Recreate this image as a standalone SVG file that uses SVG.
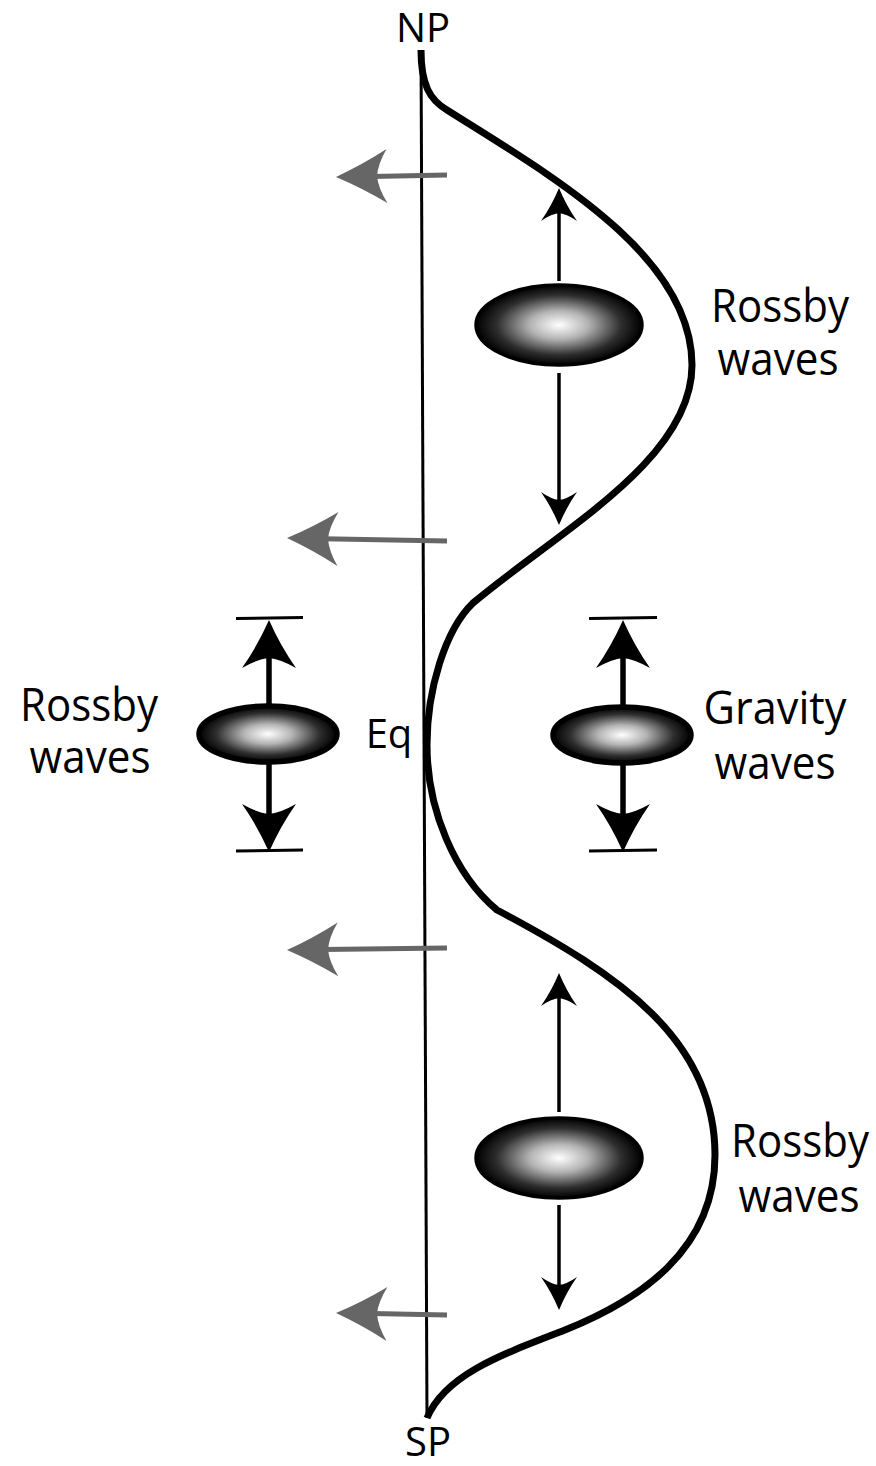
<svg xmlns="http://www.w3.org/2000/svg" width="876" height="1466" viewBox="0 0 876 1466">
<style>
.lbl{font-family:"Open Sans","Liberation Sans",sans-serif;font-size:46px;fill:#000;text-anchor:middle}
.pole{font-family:"Open Sans","Liberation Sans",sans-serif;font-size:40px;fill:#000;text-anchor:middle}
.gray{stroke:#666;stroke-width:5;fill:none}
.ghead{fill:#666}
.bhead{fill:#000}
.thin{stroke:#000;stroke-width:3.5;fill:none}
.thick{stroke:#000;stroke-width:7;fill:none;stroke-linejoin:round}
.mid{stroke:#000;stroke-width:5.5;fill:none}
.bar{stroke:#000;stroke-width:3;fill:none}
.blob{fill:url(#rg);stroke:#000;stroke-width:3.5}
.blob2{fill:url(#rg);stroke:#000;stroke-width:5.5}
</style>
<defs>
<radialGradient id="rg" cx="0.5" cy="0.5" r="0.5">
<stop offset="0" stop-color="#ffffff"/>
<stop offset="0.35" stop-color="#b4b4b4"/>
<stop offset="0.75" stop-color="#2e2e2e"/>
<stop offset="1" stop-color="#000000"/>
</radialGradient>
<path id="gh" d="M0,0 Q27,-12 51,-27 Q42,-12 41,0 Q42,12 51,27 Q27,12 0,0 Z"/>
<path id="bh" d="M0,0 Q18,-7.5 33,-18 Q26,-8 25,0 Q26,8 33,18 Q18,7.5 0,0 Z"/>
<path id="bh2" d="M0,0 Q26,-11.5 48,-27 Q39,-11 38,0 Q39,11 48,27 Q26,11.5 0,0 Z"/>
</defs>

<g id="axis">
<line x1="421" y1="50" x2="427" y2="1418" stroke="#000" stroke-width="3"/>
</g>

<g id="wave-curve">
<path class="thick" d="M421,50 C421,85 430,100 447,110 C550,175 692,255 692,365 C692,460 560,530 473,603 C445,630 427,690 427,745 C427,810 455,875 497,910 C620,975 715,1040 715,1155 C715,1250 640,1300 565,1330 C500,1355 445,1375 427,1418"/>
</g>

<g id="connectors">
<line class="gray" x1="447" y1="175" x2="372" y2="176.4"/>
<use href="#gh" class="ghead" transform="translate(336,177) rotate(-1)"/>
<line class="gray" x1="447" y1="541" x2="323" y2="538.7"/>
<use href="#gh" class="ghead" transform="translate(287,538) rotate(1.1)"/>
<line class="gray" x1="447" y1="948" x2="323" y2="949.5"/>
<use href="#gh" class="ghead" transform="translate(287,950) rotate(-0.7)"/>
<line class="gray" x1="447" y1="1315" x2="372" y2="1313.6"/>
<use href="#gh" class="ghead" transform="translate(336,1313) rotate(1)"/>

<line class="thin" x1="559" y1="281" x2="559" y2="209"/>
<use href="#bh" class="bhead" transform="translate(559,188) rotate(90)"/>
<line class="thin" x1="559" y1="373" x2="559" y2="504"/>
<use href="#bh" class="bhead" transform="translate(559,525) rotate(-90)"/>
<line class="thin" x1="559" y1="1112" x2="559" y2="994"/>
<use href="#bh" class="bhead" transform="translate(559,973) rotate(90)"/>
<line class="thin" x1="559" y1="1205" x2="559" y2="1289"/>
<use href="#bh" class="bhead" transform="translate(559,1310) rotate(-90)"/>

<line class="mid" x1="269" y1="706" x2="269" y2="654"/>
<use href="#bh2" class="bhead" transform="translate(269,620) rotate(90)"/>
<line class="mid" x1="269" y1="762" x2="269" y2="818"/>
<use href="#bh2" class="bhead" transform="translate(269,852) rotate(-90)"/>
<line class="mid" x1="623" y1="708" x2="623" y2="654"/>
<use href="#bh2" class="bhead" transform="translate(623,620) rotate(90)"/>
<line class="mid" x1="623" y1="762" x2="623" y2="818"/>
<use href="#bh2" class="bhead" transform="translate(623,852) rotate(-90)"/>
<line class="bar" x1="236" y1="618.5" x2="303" y2="617.5"/>
<line class="bar" x1="236" y1="851" x2="303" y2="850"/>
<line class="bar" x1="589" y1="618.5" x2="657" y2="617.5"/>
<line class="bar" x1="589" y1="851" x2="657" y2="850"/>
</g>

<g id="blob-north"><ellipse class="blob" cx="559" cy="325" rx="83" ry="40"/></g>
<g id="blob-south"><ellipse class="blob" cx="559" cy="1158" rx="83" ry="40"/></g>
<g id="blob-eq-left"><ellipse class="blob2" cx="268" cy="734" rx="69" ry="28"/></g>
<g id="blob-eq-right"><ellipse class="blob2" cx="622" cy="735" rx="69" ry="28"/></g>

<g id="label-np"><text class="pole" x="423" y="42">NP</text></g>
<g id="label-sp"><text class="pole" x="428" y="1456">SP</text></g>
<g id="label-eq"><text class="pole" x="389" y="748">Eq</text></g>
<g id="label-rossby-n">
<text class="lbl" x="780" y="322" textLength="138" lengthAdjust="spacingAndGlyphs">Rossby</text>
<text class="lbl" x="778" y="375" textLength="121" lengthAdjust="spacingAndGlyphs">waves</text>
</g>
<g id="label-rossby-eq">
<text class="lbl" x="89" y="721" textLength="138" lengthAdjust="spacingAndGlyphs">Rossby</text>
<text class="lbl" x="90" y="773" textLength="121" lengthAdjust="spacingAndGlyphs">waves</text>
</g>
<g id="label-gravity">
<text class="lbl" x="775" y="724" textLength="143" lengthAdjust="spacingAndGlyphs">Gravity</text>
<text class="lbl" x="775" y="779" textLength="121" lengthAdjust="spacingAndGlyphs">waves</text>
</g>
<g id="label-rossby-s">
<text class="lbl" x="800" y="1157" textLength="138" lengthAdjust="spacingAndGlyphs">Rossby</text>
<text class="lbl" x="799" y="1212" textLength="121" lengthAdjust="spacingAndGlyphs">waves</text>
</g>
</svg>
